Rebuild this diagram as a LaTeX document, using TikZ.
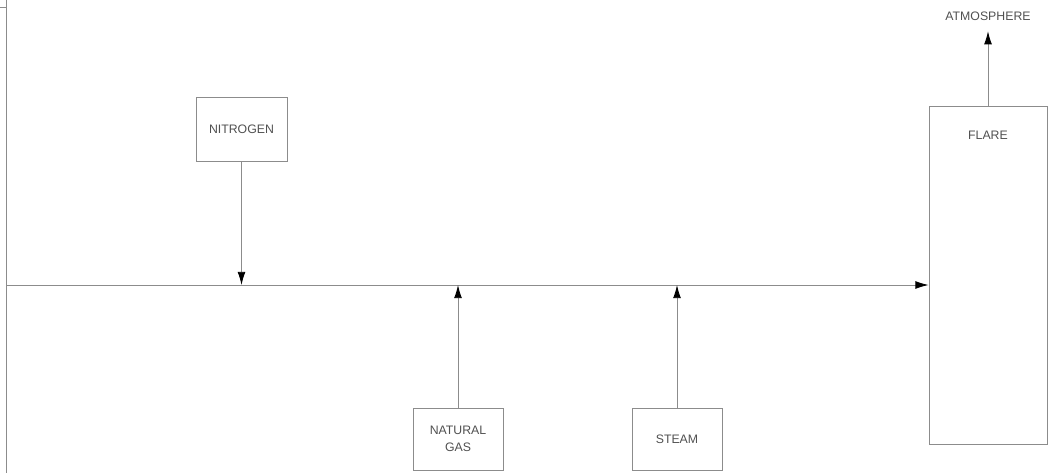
\documentclass[tikz,border=0pt]{standalone}
\usepackage{fontspec}
\setmainfont{Liberation Sans}
\usetikzlibrary{arrows.meta}
\definecolor{linegray}{RGB}{140,140,140}
\definecolor{textgray}{RGB}{80,80,80}
\tikzset{
    unit/.style={draw=linegray, line width=0.5pt, align=center, text=textgray, font=\fontsize{7}{9.5}\selectfont},
    flow/.style={draw=linegray, line width=0.5pt, -{Latex[length=7.5pt, width=4.5pt, color=black]}},
    tag/.style={text=textgray, font=\fontsize{7}{9}\selectfont, inner sep=1pt}
}
\begin{document}
\begin{tikzpicture}[x=0.02cm, y=-0.02cm]
    \useasboundingbox (0, 0) rectangle (1048, 473);
    % Frame
    \draw[linegray, line width=0.5pt] (6, 0) -- (6, 473);
    \draw[linegray, line width=0.5pt] (0, 7) -- (6, 7);
    % Units
    \node[unit, minimum width=91*0.02cm, minimum height=64*0.02cm] (nitrogen) at (241.5, 129) {NITROGEN};
    \node[unit, minimum width=90*0.02cm, minimum height=62*0.02cm] (gas) at (458, 439) {NATURAL\\GAS};
    \node[unit, minimum width=90*0.02cm, minimum height=62*0.02cm] (steam) at (677, 439) {STEAM};
    \node[unit, minimum width=118*0.02cm, minimum height=338*0.02cm] (flare) at (988, 275) {};
    \node[tag] (flarelabel) at (988, 135) {FLARE};
    \node[tag] (atmosphere) at (988, 16) {ATMOSPHERE};
    % Header
    \coordinate (header) at (6, 285);
    \draw[flow] (header) -- (header -| flare.west);
    % Feeds
    \draw[flow] (nitrogen.south) -- (nitrogen.south |- header);
    \draw[flow] (gas.north) -- (gas.north |- header);
    \draw[flow] (steam.north) -- (steam.north |- header);
    \draw[flow, shorten >=5pt] (flare.north) -- (atmosphere.south);
\end{tikzpicture}
\end{document}
